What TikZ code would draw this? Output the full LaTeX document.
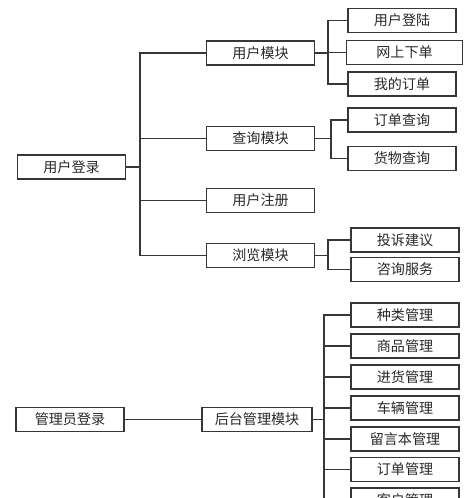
\documentclass[tikz,border=0pt]{standalone}
\usepackage{fontspec}
\newfontfamily\cjk{Noto Sans CJK SC}
\definecolor{linegray}{RGB}{55, 55, 55}
\definecolor{textgray}{RGB}{40, 40, 40}
\tikzset{
  modbox/.style={draw=linegray, line width=0.8pt, minimum width=2.7cm, minimum height=0.6cm,
    inner sep=0pt, text=textgray, font=\cjk\fontsize{10}{12}\selectfont},
  link/.style={draw=linegray, line width=0.8pt}
}
\begin{document}
\begin{tikzpicture}[x=0.025cm, y=-0.025cm]
  % Canvas (1 unit = 1 px of the 474x498 sheet), bottom box is cut off
  \clip (0,0) rectangle (474,498);

  % Upper tree: user side
  \node[modbox] (ulogin) at (71.5,167) {用户登录};
  \node[modbox] (umod) at (260.5,53) {用户模块};
  \node[modbox] (qmod) at (260.5,138.5) {查询模块};
  \node[modbox] (ureg) at (260.5,200.5) {用户注册};
  \node[modbox] (bmod) at (260.5,255.5) {浏览模块};

  % Leaves of the user modules
  \node[modbox] (ulog) at (402,20.5) {用户登陆};
  \node[modbox, minimum width=2.92cm] (order) at (404.5,52.5) {网上下单};
  \node[modbox] (myord) at (402,84) {我的订单};
  \node[modbox] (ordq) at (402,120) {订单查询};
  \node[modbox] (goodq) at (402,158.5) {货物查询};
  \node[modbox] (advice) at (405,240) {投诉建议};
  \node[modbox] (consult) at (405,269.5) {咨询服务};

  % Connectors for the user tree
  \coordinate (utrunk) at (140,167);
  \draw[link] (ulogin.east) -- (utrunk);
  \foreach \m in {umod, qmod, ureg, bmod}
    \draw[link] (utrunk) |- (\m.west);

  \coordinate (ubranch) at (328,53);
  \draw[link] (umod.east) -- (ubranch);
  \foreach \s in {ulog, order, myord}
    \draw[link] (ubranch) |- (\s.west);

  \coordinate (qbranch) at (331,138.5);
  \draw[link] (qmod.east) -- (qbranch);
  \foreach \s in {ordq, goodq}
    \draw[link] (qbranch) |- (\s.west);

  \coordinate (bbranch) at (328,255.5);
  \draw[link] (bmod.east) -- (bbranch);
  \foreach \s in {advice, consult}
    \draw[link] (bbranch) |- (\s.west);

  % Lower tree: admin side
  \node[modbox] (alogin) at (70,419.5) {管理员登录};
  \node[modbox, minimum width=2.75cm] (admin) at (257,419.5) {后台管理模块};

  % Leaves of the back end (y step about 31 px)
  \foreach \name/\lbl/\y in {kind/种类管理/315, goods/商品管理/346, stock/进货管理/377,
      car/车辆管理/408, board/留言本管理/439, aorder/订单管理/469.5, client/客户管理/500} {
    \node[modbox] (\name) at (405,\y) {\lbl};
  }

  \draw[link] (alogin) -- (admin);
  \coordinate (abranch) at (324,419.5);
  \draw[link] (admin.east) -- (abranch);
  \foreach \s in {kind, goods, stock, car, board, aorder, client}
    \draw[link] (abranch) |- (\s.west);
\end{tikzpicture}
\end{document}
